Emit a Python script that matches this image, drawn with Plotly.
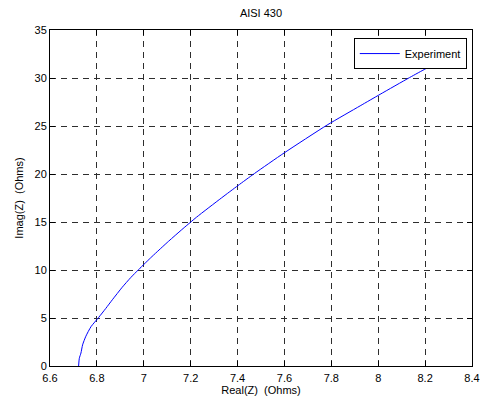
import plotly.graph_objects as go

# Impedance trace of AISI 430: real part vs imaginary part (Ohms)
real_z = [6.722, 6.725, 6.732, 6.739, 6.753, 6.775, 6.807, 6.838, 6.866, 6.908,
          6.944, 6.979, 7.035, 7.106, 7.162, 7.225, 7.331, 7.402, 7.472,
          7.599, 7.782, 7.923, 8.008, 8.134, 8.205, 8.255]
imag_z = [0.0, 0.8, 1.35, 2.2, 3.1, 4.1, 5.04, 6.0, 6.9, 8.2,
          9.2, 10.07, 11.4, 13.0, 14.2, 15.5, 17.5, 18.8, 20.05,
          22.2, 25.1, 27.1, 28.3, 30.05, 31.0, 31.65]

x_ticks = [6.6, 6.8, 7.0, 7.2, 7.4, 7.6, 7.8, 8.0, 8.2, 8.4]
x_tick_text = ["6.6", "6.8", "7", "7.2", "7.4", "7.6", "7.8", "8", "8.2", "8.4"]
y_ticks = [0, 5, 10, 15, 20, 25, 30, 35]

font = dict(family="Liberation Sans, Arial, sans-serif", size=11, color="black")

fig = go.Figure()
fig.add_trace(go.Scatter(
    x=real_z, y=imag_z, mode="lines", name="Experiment",
    line=dict(color="#0000ff", width=1, shape="spline", smoothing=0.6),
))

axis_common = dict(
    showline=True, linecolor="black", linewidth=1, mirror="ticks",
    ticks="inside", ticklen=5, tickcolor="black", tickwidth=1,
    showgrid=True, gridcolor="#2e2e2e", gridwidth=1, griddash="6px,5px",
    zeroline=False, tickfont=font,
)

fig.update_layout(
    width=492, height=405,
    margin=dict(l=50, r=15, t=30, b=37),
    paper_bgcolor="white", plot_bgcolor="white",
    font=font,
    title=dict(text="AISI 430", x=0.5, xref="paper", xanchor="center",
               y=0.967, yanchor="middle", font=dict(size=11)),
    xaxis=dict(range=[6.6, 8.4], tickvals=x_ticks, ticktext=x_tick_text,
               ticklabelstandoff=2,
               title=dict(text="Real(Z)  (Ohms)", standoff=1, font=dict(size=11)),
               **axis_common),
    yaxis=dict(range=[0, 35], tickvals=y_ticks,
               title=dict(text="Imag(Z)  (Ohms)", standoff=8, font=dict(size=11)),
               **axis_common),
    legend=dict(x=0.9876, y=0.976, xanchor="right", yanchor="top",
                bordercolor="black", borderwidth=1, bgcolor="white",
                font=dict(size=11), itemwidth=40,
                tracegroupgap=0),
    showlegend=True,
)

fig.write_html("out.html")
